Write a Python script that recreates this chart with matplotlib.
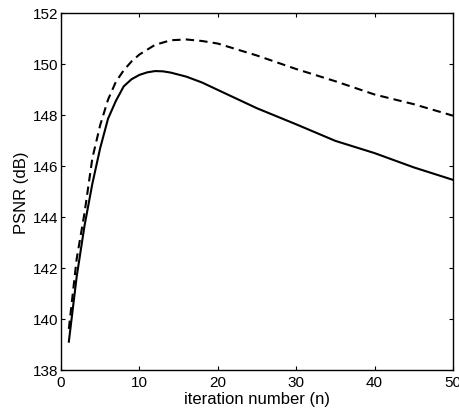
import matplotlib
matplotlib.use("Agg")
import matplotlib.pyplot as plt

n_solid = [1, 2, 3, 4, 5, 6, 7, 8, 9, 10, 11, 12, 13, 14, 16, 18, 20, 25, 30, 35, 40, 45, 50]
psnr_solid = [139.1, 141.65, 143.65, 145.3, 146.7, 147.85, 148.55, 149.12, 149.4, 149.57,
              149.67, 149.72, 149.71, 149.66, 149.5, 149.27, 148.98, 148.26, 147.63, 146.98,
              146.5, 145.94, 145.45]

n_dashed = [1, 2, 3, 4, 5, 6, 7, 8, 9, 10, 12, 14, 16, 18, 20, 25, 30, 35, 40, 45, 50]
psnr_dashed = [139.6, 142.35, 144.15, 146.3, 147.6, 148.6, 149.3, 149.75, 150.1, 150.37,
               150.75, 150.93, 150.96, 150.9, 150.8, 150.33, 149.8, 149.32, 148.8, 148.42, 147.97]

plt.rcParams['font.family'] = ['Liberation Sans', 'DejaVu Sans']
plt.rcParams['font.size'] = 11

fig = plt.figure(figsize=(4.59, 4.10), dpi=100)
ax = fig.add_axes([0.1329, 0.0959, 0.854, 0.870])

ax.plot(n_solid, psnr_solid, color='black', linewidth=1.5)
line, = ax.plot(n_dashed, psnr_dashed, color='black', linewidth=1.5, linestyle='--')
line.set_dashes([4, 2.5])

ax.set_xlim(0, 50)
ax.set_ylim(138, 152)
ax.set_xticks([0, 10, 20, 30, 40, 50])
ax.set_yticks([138, 140, 142, 144, 146, 148, 150, 152])
ax.tick_params(direction='in', top=True, right=True, length=3, width=0.8, pad=2, labelsize=11)
ax.tick_params(axis='x', pad=4)
for s in ax.spines.values():
    s.set_linewidth(1.0)

ax.set_xlabel("iteration number (n)", fontsize=12, labelpad=1)
ax.set_ylabel("PSNR (dB)", fontsize=12, labelpad=3)

fig.savefig("out.png", dpi=100)
